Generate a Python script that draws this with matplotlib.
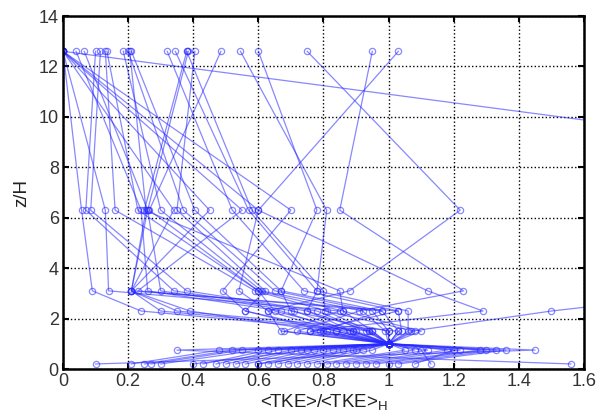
import numpy as np
import matplotlib
matplotlib.use("Agg")
import matplotlib.pyplot as plt

plt.rcParams['font.family'] = ['Liberation Sans', 'DejaVu Sans']
plt.rcParams['mathtext.fontset'] = 'custom'
plt.rcParams['mathtext.rm'] = 'Liberation Sans'
plt.rcParams['mathtext.it'] = 'Liberation Sans'

# heights of the measurement levels (z/H)
z_levels = [0.2, 0.75, 1.0, 1.5, 2.3, 3.1, 6.3, 12.6]

# normalised TKE per profile, one value per level (same order as z_levels)
tke_p01 = [0.10, 1.45, 1.0, 1.07, 1.50, 2.05, 3.70, 0.00]
tke_p02 = [1.56, 0.35, 1.0, 0.90, 0.24, 0.09, 0.057, 0.00]
tke_p03 = [0.21, 0.48, 1.0, 0.68, 0.85, 0.14, 0.13, 0.00]
tke_p04 = [0.25, 0.52, 1.0, 0.95, 0.30, 0.21, 0.34, 0.00]
tke_p05 = [0.27, 0.55, 1.0, 0.76, 1.03, 0.21, 0.45, 0.00]
tke_p06 = [0.30, 0.60, 1.0, 0.79, 0.98, 0.23, 0.55, 0.00]
tke_p07 = [0.43, 0.63, 1.0, 0.81, 0.56, 0.49, 0.70, 0.00]
tke_p08 = [0.47, 0.66, 1.0, 0.84, 0.63, 0.54, 0.60, 0.00]
tke_p09 = [0.50, 0.70, 1.0, 0.86, 0.67, 0.26, 0.24, 0.04]
tke_p10 = [0.53, 0.73, 1.0, 0.88, 0.71, 0.30, 0.26, 0.065]
tke_p11 = [0.56, 0.77, 1.0, 0.89, 0.75, 0.34, 0.07, 0.10]
tke_p12 = [0.60, 0.80, 1.0, 0.93, 0.78, 0.38, 0.085, 0.115]
tke_p13 = [0.63, 0.83, 1.0, 0.94, 0.81, 0.59, 0.16, 0.13]
tke_p14 = [0.66, 0.86, 1.0, 0.95, 0.86, 0.60, 0.23, 0.135]
tke_p15 = [0.69, 0.89, 1.0, 0.99, 0.92, 0.61, 0.30, 0.185]
tke_p16 = [0.72, 0.92, 1.0, 1.00, 0.95, 0.65, 0.37, 0.20]
tke_p17 = [0.75, 0.95, 1.0, 1.03, 0.98, 0.67, 0.405, 0.21]
tke_p18 = [0.78, 1.05, 1.0, 1.04, 1.03, 0.74, 0.52, 0.32]
tke_p19 = [0.81, 1.08, 1.0, 1.06, 1.06, 0.78, 0.57, 0.345]
tke_p20 = [0.84, 1.12, 1.0, 1.08, 0.805, 0.80, 0.58, 0.38]
tke_p21 = [0.87, 1.18, 1.0, 1.10, 0.86, 0.85, 0.25, 0.38]
tke_p22 = [0.90, 1.22, 1.0, 0.67, 0.63, 0.88, 1.22, 0.75]
tke_p23 = [0.93, 1.28, 1.0, 0.72, 0.91, 1.23, 0.85, 0.95]
tke_p24 = [0.96, 1.30, 1.0, 0.76, 1.29, 1.12, 0.60, 1.03]
tke_p25 = [1.00, 1.33, 1.0, 0.84, 0.56, 0.62, 0.35, 0.405]
tke_p26 = [1.03, 1.36, 1.0, 0.89, 0.65, 0.60, 0.265, 0.485]
tke_p27 = [1.08, 1.20, 1.0, 0.94, 0.75, 0.78, 0.81, 0.545]
tke_p28 = [1.13, 1.10, 1.0, 1.00, 0.70, 0.67, 0.78, 0.60]
tke_p29 = [0.60, 0.90, 1.0, 1.03, 0.35, 0.21, 0.26, 0.385]
tke_p30 = [0.40, 0.75, 1.0, 0.80, 0.39, 0.21, 0.255, 0.205]

profiles = [tke_p01, tke_p02, tke_p03, tke_p04, tke_p05, tke_p06, tke_p07, tke_p08,
            tke_p09, tke_p10, tke_p11, tke_p12, tke_p13, tke_p14, tke_p15, tke_p16,
            tke_p17, tke_p18, tke_p19, tke_p20, tke_p21, tke_p22, tke_p23, tke_p24,
            tke_p25, tke_p26, tke_p27, tke_p28, tke_p29, tke_p30]

fig = plt.figure(figsize=(6.07, 4.17), dpi=100)
ax = fig.add_axes([0.1038, 0.1151, 0.8582, 0.8465])

for tke in profiles:
    ax.plot(tke, z_levels, '-o', color=(0.15, 0.15, 1.0), alpha=0.55, lw=0.9,
            ms=4.5, mfc='none', mew=0.9)

ax.set_xlim(0, 1.6)
ax.set_ylim(0, 14)
ax.set_xticks(np.arange(0, 1.61, 0.2))
ax.set_xticklabels(['0', '0.2', '0.4', '0.6', '0.8', '1', '1.2', '1.4', '1.6'])
ax.set_yticks(np.arange(0, 15, 2))
ax.grid(True, color='black', linestyle=':', linewidth=1.0)
ax.tick_params(direction='in', length=4, width=1.5, top=True, right=True,
               labelsize=13, labelcolor='#333333', pad=3)
for s in ax.spines.values():
    s.set_linewidth(1.8)

ax.set_xlabel(r'<TKE>/<TKE>$_{\mathrm{H}}$', fontsize=13.5, color='#222222', labelpad=1)
ax.set_ylabel('z/H', fontsize=13.5, color='#222222', labelpad=6)

fig.savefig('out.png', dpi=100)
